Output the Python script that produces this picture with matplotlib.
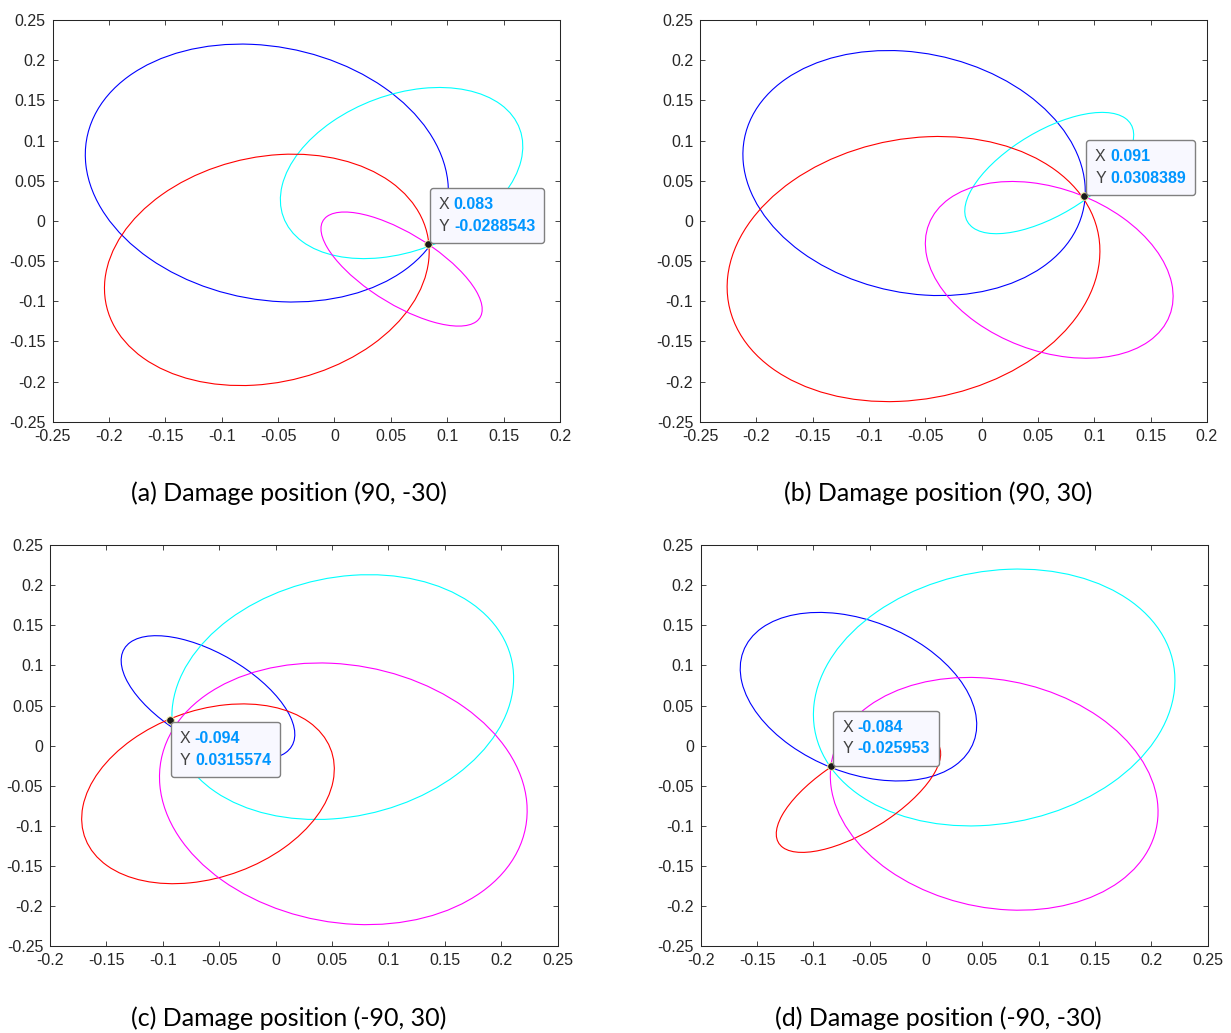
import numpy as np
import matplotlib
matplotlib.use("Agg")
import matplotlib.pyplot as plt
from matplotlib.patches import Ellipse
from matplotlib.offsetbox import TextArea, HPacker, VPacker, AnnotationBbox

W, H = 1231, 1033

captions = ['(a) Damage position (90, -30)', '(b) Damage position (90, 30)',
            '(c) Damage position (-90, 30)', '(d) Damage position (-90, -30)']

# extents of each loop: xmin, xmax, ymin, ymax, x at the topmost point
blue = [(-0.221, 0.101, -0.101, 0.220, -0.083),
        (-0.212, 0.092, -0.093, 0.212, -0.083),
        (-0.137, 0.017, -0.017, 0.137, -0.106),
        (-0.165, 0.045, -0.044, 0.166, -0.095)]
cyan = [(-0.048, 0.167, -0.047, 0.166, 0.093),
        (-0.015, 0.135, -0.016, 0.135, 0.107),
        (-0.092, 0.211, -0.092, 0.213, 0.083),
        (-0.100, 0.221, -0.100, 0.220, 0.082)]
red = [(-0.204, 0.084, -0.205, 0.083, -0.037),
       (-0.226, 0.105, -0.225, 0.105, -0.038),
       (-0.172, 0.052, -0.172, 0.052, -0.029),
       (-0.133, 0.013, -0.133, 0.013, -0.010)]
magenta = [(-0.012, 0.131, -0.131, 0.011, 0.009),
           (-0.050, 0.170, -0.171, 0.049, 0.027),
           (-0.103, 0.223, -0.223, 0.103, 0.039),
           (-0.085, 0.206, -0.205, 0.085, 0.038)]

tip_x = [0.083, 0.091, -0.094, -0.084]
tip_y = [-0.0288543, 0.0308389, 0.0315574, -0.025953]
tip_xtxt = ['0.083', '0.091', '-0.094', '-0.084']
tip_ytxt = ['-0.0288543', '0.0308389', '0.0315574', '-0.025953']
tip_below = [False, False, True, False]

xlims = [(-0.25, 0.2), (-0.25, 0.2), (-0.2, 0.25), (-0.2, 0.25)]
ylim = (-0.25, 0.25)

# axes boxes in pixels: left, top, right, bottom
boxes = [(52.6, 20, 560, 421.7), (700.1, 20, 1206.9, 421.7),
         (50.1, 545, 557.6, 946.3), (700.8, 545, 1207.6, 946.3)]
cap_pos = [(289, 493), (938, 493), (289, 1018), (938, 1018)]

plt.rcParams['font.family'] = ['Liberation Sans', 'DejaVu Sans']
axis_col = '#262626'
line_cols = ['#0000ff', '#00ffff', '#ff0000', '#ff00ff']


def loop_patch(ext, color):
    xmin, xmax, ymin, ymax, xtop = ext
    cx, cy = (xmin + xmax) / 2, (ymin + ymax) / 2
    wx, wy = (xmax - xmin) / 2, (ymax - ymin) / 2
    cxy = (xtop - cx) * wy
    vals, vecs = np.linalg.eigh(np.array([[wx**2, cxy], [cxy, wy**2]]))
    ang = np.degrees(np.arctan2(vecs[1, 1], vecs[0, 1]))
    return Ellipse((cx, cy), 2 * np.sqrt(vals[1]), 2 * np.sqrt(vals[0]), angle=ang,
                   fill=False, edgecolor=color, linewidth=0.8)


def fmt(v):
    return '0' if abs(v) < 1e-9 else ('%g' % round(v, 2))


fig = plt.figure(figsize=(W / 100, H / 100), dpi=100)
pad_pt = 6.5

for i in range(4):
    l, t, r, b = boxes[i]
    ax = fig.add_axes([l / W, 1 - b / H, (r - l) / W, (b - t) / H])
    ax.set_xlim(*xlims[i])
    ax.set_ylim(*ylim)

    for data, col in zip([blue, cyan, red, magenta], line_cols):
        ax.add_patch(loop_patch(data[i], col))

    ax.plot(tip_x[i], tip_y[i], 'o', ms=5.5, mfc='#1a1a1a', mec='#f3eaa0', mew=0.7, zorder=5)

    xt = np.round(np.arange(xlims[i][0], xlims[i][1] + 1e-9, 0.05), 2)
    yt = np.round(np.arange(ylim[0], ylim[1] + 1e-9, 0.05), 2)
    ax.set_xticks(xt)
    ax.set_xticklabels([fmt(v) for v in xt])
    ax.set_yticks(yt)
    ax.set_yticklabels([fmt(v) for v in yt])
    ax.tick_params(direction='in', top=True, right=True, length=3.6, width=0.6,
                   colors=axis_col, labelsize=11.5)
    ax.tick_params(axis='x', pad=5)
    ax.tick_params(axis='y', pad=5)
    for sp in ax.spines.values():
        sp.set_color(axis_col)
        sp.set_linewidth(0.75)

    lab = dict(color='#404040', fontsize=11.5)
    val = dict(color='#0096ff', fontsize=11.5, fontweight='bold')
    row1 = HPacker(children=[TextArea('X', textprops=lab), TextArea(tip_xtxt[i], textprops=val)],
                   sep=3, pad=0, align='baseline')
    row2 = HPacker(children=[TextArea('Y', textprops=lab), TextArea(tip_ytxt[i], textprops=val)],
                   sep=3, pad=0, align='baseline')
    box = VPacker(children=[row1, row2], sep=5, pad=0, align='left')
    if tip_below[i]:
        xybox, align = (pad_pt + 1.0, -(pad_pt + 1.0)), (0, 1)
    else:
        xybox, align = (pad_pt + 1.4, pad_pt + 0.7), (0, 0)
    ab = AnnotationBbox(box, (tip_x[i], tip_y[i]), xybox=xybox,
                        boxcoords='offset points', box_alignment=align, frameon=True,
                        bboxprops=dict(boxstyle='round,pad=%g,rounding_size=0.2' % (pad_pt / 10),
                                       facecolor='#f8f8ff', edgecolor='#808080', linewidth=1.0))
    ab.set_zorder(6)
    ax.add_artist(ab)

    cx, cy = cap_pos[i]
    fig.text(cx / W, 1 - cy / H, captions[i], ha='center', va='center',
             fontsize=18, family=['Lato', 'DejaVu Sans'], color='black')

fig.savefig('out.png', dpi=100)
